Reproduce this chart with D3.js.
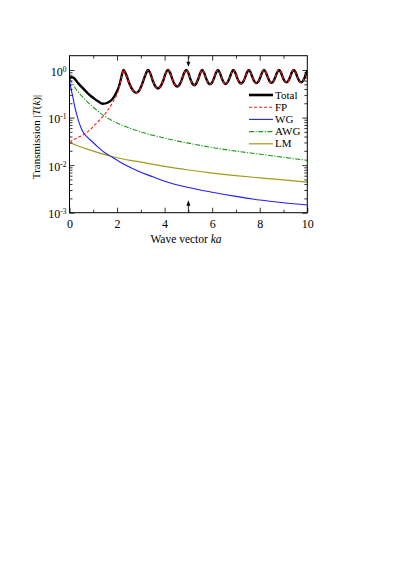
<!DOCTYPE html>
<html>
<head>
<meta charset="utf-8">
<script src="https://cdn.jsdelivr.net/npm/d3@7"></script>
<style>
  body { margin: 0; background: #fff; }
  svg { display: block; }
  text { font-family: "Liberation Serif", "Times New Roman", serif; fill: #000; }
</style>
</head>
<body>
<div id="chart"></div>
<script>
// values (ka, |T(k)|)
const totalK = [0, 0.08, 0.2, 0.36, 0.55, 0.78, 1.0, 1.2, 1.4, 1.6, 1.82, 1.96, 2.08, 2.17];
const totalT = [0.66, 0.71, 0.67, 0.53, 0.42, 0.32, 0.26, 0.22, 0.195, 0.205, 0.25, 0.33, 0.45, 0.67];

const fpK = [0, 0.35, 0.72, 1.11, 1.5, 1.82, 2.03, 2.17];
const fpT = [0.031, 0.038, 0.048, 0.074, 0.12, 0.21, 0.34, 0.64];

// Fabry-Perot oscillations, shared by Total and FP
const oscK = [2.27, 2.40, 2.53, 2.67, 2.80, 2.93, 3.05, 3.18,
  3.30, 3.405, 3.51, 3.615, 3.72, 3.825, 3.93, 4.035,
  4.14, 4.24, 4.335, 4.43, 4.53, 4.625, 4.72, 4.815,
  4.91, 5.00, 5.08, 5.165, 5.25, 5.33, 5.415, 5.50,
  5.58, 5.66, 5.745, 5.83, 5.91, 5.99, 6.075, 6.16,
  6.24, 6.32, 6.40, 6.485, 6.565, 6.645, 6.73, 6.81,
  6.89, 6.97, 7.05, 7.135, 7.215, 7.295, 7.38, 7.46,
  7.54, 7.62, 7.70, 7.78, 7.86, 7.94, 8.02, 8.10,
  8.18, 8.26, 8.34, 8.415, 8.495, 8.575, 8.65, 8.73,
  8.81, 8.89, 8.965, 9.04, 9.12, 9.20, 9.275, 9.35,
  9.43, 9.51, 9.585, 9.66, 9.74, 9.82, 9.895, 9.97, 10.0];
const oscT = [1.0, 0.76, 0.50, 0.37, 0.33, 0.37, 0.50, 0.76,
  1.0, 0.83, 0.58, 0.45, 0.41, 0.45, 0.58, 0.83,
  1.0, 0.85, 0.62, 0.49, 0.45, 0.49, 0.62, 0.85,
  1.0, 0.865, 0.65, 0.52, 0.48, 0.52, 0.65, 0.865,
  1.0, 0.873, 0.667, 0.539, 0.50, 0.539, 0.667, 0.873,
  1.0, 0.877, 0.676, 0.55, 0.51, 0.55, 0.676, 0.877,
  1.0, 0.881, 0.684, 0.559, 0.52, 0.559, 0.684, 0.881,
  1.0, 0.885, 0.693, 0.569, 0.53, 0.569, 0.693, 0.885,
  1.0, 0.889, 0.701, 0.579, 0.54, 0.579, 0.701, 0.889,
  1.0, 0.893, 0.71, 0.589, 0.55, 0.589, 0.71, 0.893,
  1.0, 0.893, 0.71, 0.589, 0.55, 0.589, 0.71, 0.893, 0.95];

const wgK = [0, 0.04, 0.08, 0.13, 0.2, 0.27, 0.38, 0.48, 0.6, 0.75, 0.9, 1.2, 1.5, 1.77, 2.1, 2.5, 2.9, 3.5, 4, 5, 6, 7, 8, 9, 10];
const wgT = [0.66, 0.47, 0.37, 0.29, 0.19, 0.135, 0.085, 0.062, 0.047, 0.039, 0.033, 0.024, 0.018, 0.015, 0.0118, 0.0092, 0.0074, 0.0057, 0.0046, 0.0034, 0.0027, 0.0022, 0.00185, 0.00162, 0.00145];

const awgK = [0, 0.13, 0.27, 0.5, 0.69, 1.0, 1.5, 2.0, 2.38, 3, 4, 5, 6, 7, 8, 9, 10];
const awgT = [0.66, 0.52, 0.40, 0.29, 0.23, 0.165, 0.105, 0.077, 0.064, 0.05, 0.037, 0.029, 0.0235, 0.0197, 0.017, 0.0146, 0.0126];

const lmK = [0, 0.4, 0.8, 1.2, 1.77, 2.4, 3, 4, 5, 6, 7, 8, 9, 10];
const lmT = [0.030, 0.025, 0.0213, 0.0183, 0.0152, 0.013, 0.0116, 0.0094, 0.0079, 0.0068, 0.006, 0.0054, 0.0049, 0.0044];

const xMajor = [0, 2, 4, 6, 8, 10];
const xMinor = [1, 3, 5, 7, 9];
const yMajor = [1e-3, 1e-2, 1e-1, 1];
const yExp = ["-3", "-2", "-1", "0"];
const legendNames = ["Total", "FP", "WG", "AWG", "LM"];
const arrowK = 5;

const W = 415, H = 588;
const plotL = 69.5, plotR = 307.3, plotT = 55.7, plotB = 212.7;

const svg = d3.select("#chart").append("svg")
  .attr("width", W).attr("height", H);

const x = d3.scaleLinear().domain([0, 10]).range([plotL, plotR]);
const y = d3.scaleLog().domain([1e-3, 2]).range([plotB, plotT]);

const zip = (ks, ts) => ks.map((k, i) => ({k: k, t: ts[i]}));
const series = [
  {name: "Total", data: zip(totalK.concat(oscK), totalT.concat(oscT)), color: "#000", width: 2.4, dash: null},
  {name: "FP", data: zip(fpK.concat(oscK), fpT.concat(oscT)), color: "#ff1a1a", width: 1.1, dash: "3,2"},
  {name: "WG", data: zip(wgK, wgT), color: "#1f1fff", width: 1.1, dash: null},
  {name: "AWG", data: zip(awgK, awgT), color: "#1a9a1a", width: 1.1, dash: "5,1.5,1.2,1.5"},
  {name: "LM", data: zip(lmK, lmT), color: "#a09a1e", width: 1.2, dash: null}
];

svg.append("clipPath").attr("id", "clip")
  .append("rect").attr("x", plotL).attr("y", plotT)
  .attr("width", plotR - plotL).attr("height", plotB - plotT);

const line = d3.line()
  .x(d => x(d.k))
  .y(d => y(d.t))
  .curve(d3.curveMonotoneX);

// draw back to front: others first, Total, then FP on top
const order = ["LM", "AWG", "WG", "Total", "FP"];
svg.append("g").attr("clip-path", "url(#clip)")
  .selectAll("path")
  .data(order.map(n => series.find(s => s.name === n)))
  .join("path")
    .attr("d", d => line(d.data))
    .attr("fill", "none")
    .attr("stroke", d => d.color)
    .attr("stroke-width", d => d.width)
    .attr("stroke-dasharray", d => d.dash)
    .attr("stroke-linejoin", "round");

// axes with inward ticks on all four sides
const yMinor = [];
[-3, -2, -1, 0].forEach(e => {
  for (let m = 2; m <= 9; m++) {
    const v = m * Math.pow(10, e);
    if (v < 2) yMinor.push(v);
  }
});

const tickStyle = g => {
  g.select(".domain").remove();
  g.selectAll("line").attr("stroke", "#000").attr("stroke-width", 0.8);
};

svg.append("g")
  .attr("transform", `translate(0,${plotB})`)
  .call(d3.axisBottom(x).tickValues(xMajor).tickSize(-5).tickPadding(7).tickFormat(d3.format("d")))
  .call(tickStyle)
  .call(g => g.selectAll("text").attr("font-size", 12).attr("font-family", "Liberation Serif, serif"));

svg.append("g")
  .attr("transform", `translate(0,${plotB})`)
  .call(d3.axisBottom(x).tickValues(xMinor).tickSize(-3).tickFormat(""))
  .call(tickStyle);

svg.append("g")
  .attr("transform", `translate(0,${plotT})`)
  .call(d3.axisTop(x).tickValues(xMajor.slice(1, -1)).tickSize(-5).tickFormat(""))
  .call(tickStyle);

svg.append("g")
  .attr("transform", `translate(0,${plotT})`)
  .call(d3.axisTop(x).tickValues(xMinor).tickSize(-3).tickFormat(""))
  .call(tickStyle);

svg.append("g")
  .attr("transform", `translate(${plotL},0)`)
  .call(d3.axisLeft(y).tickValues(yMajor).tickSize(-5).tickPadding(3).tickFormat(""))
  .call(tickStyle)
  .call(g => g.selectAll(".tick text")
    .attr("font-size", 12)
    .attr("font-family", "Liberation Serif, serif")
    .attr("dy", "0.42em")
    .each(function(d, i) {
      const t = d3.select(this);
      t.append("tspan").text("10");
      t.append("tspan").attr("dy", "-0.5em").attr("font-size", 7.5).text(yExp[i]);
    }));

svg.append("g")
  .attr("transform", `translate(${plotL},0)`)
  .call(d3.axisLeft(y).tickValues(yMinor).tickSize(-3).tickFormat(""))
  .call(tickStyle);

svg.append("g")
  .attr("transform", `translate(${plotR},0)`)
  .call(d3.axisRight(y).tickValues(yMajor).tickSize(-5).tickFormat(""))
  .call(tickStyle);

svg.append("g")
  .attr("transform", `translate(${plotR},0)`)
  .call(d3.axisRight(y).tickValues(yMinor).tickSize(-3).tickFormat(""))
  .call(tickStyle);

// frame
svg.append("rect")
  .attr("x", plotL).attr("y", plotT)
  .attr("width", plotR - plotL).attr("height", plotB - plotT)
  .attr("fill", "none").attr("stroke", "#000").attr("stroke-width", 1);

// arrows at ka = 5
const ax = x(arrowK);
svg.append("line").attr("x1", ax).attr("x2", ax).attr("y1", plotT).attr("y2", plotT + 7)
  .attr("stroke", "#000").attr("stroke-width", 0.8);
svg.append("path")
  .attr("d", `M${ax - 2},${plotT + 6}L${ax + 2},${plotT + 6}L${ax},${plotT + 11}Z`)
  .attr("fill", "#000");
svg.append("line").attr("x1", ax).attr("x2", ax).attr("y1", plotB).attr("y2", plotB - 8)
  .attr("stroke", "#000").attr("stroke-width", 0.8);
svg.append("path")
  .attr("d", `M${ax - 2},${plotB - 7}L${ax + 2},${plotB - 7}L${ax},${plotB - 12.5}Z`)
  .attr("fill", "#000");

// axis titles
const xt = svg.append("text")
  .attr("x", 186).attr("y", 243)
  .attr("text-anchor", "middle")
  .attr("font-size", 11.5);
xt.append("tspan").text("Wave vector ");
xt.append("tspan").attr("font-style", "italic").text("ka");

const yt = svg.append("text")
  .attr("transform", "translate(40,137) rotate(-90)")
  .attr("text-anchor", "middle")
  .attr("font-size", 11);
yt.append("tspan").text("Transmission |");
yt.append("tspan").attr("font-style", "italic").text("T");
yt.append("tspan").text("(");
yt.append("tspan").attr("font-style", "italic").text("k");
yt.append("tspan").text(")|");

// legend
const leg = svg.append("g")
  .selectAll("g")
  .data(legendNames.map(n => series.find(s => s.name === n)))
  .join("g")
    .attr("transform", (d, i) => `translate(249,${95 + i * 12.2})`);
leg.append("line")
  .attr("x1", 0).attr("x2", 24)
  .attr("stroke", d => d.color)
  .attr("stroke-width", d => d.name === "Total" ? 2.6 : d.width)
  .attr("stroke-dasharray", d => d.dash);
leg.append("text")
  .attr("x", 26).attr("dy", "0.33em")
  .attr("font-size", 11)
  .text(d => d.name);
</script>
</body>
</html>
